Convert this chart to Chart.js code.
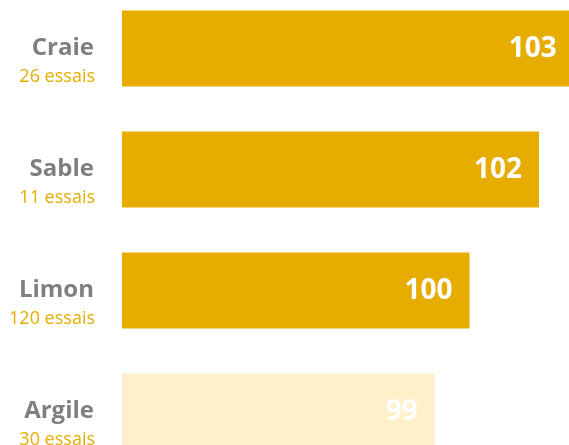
<!DOCTYPE html>
<html>
<head>
<meta charset="utf-8">
<script src="https://cdn.jsdelivr.net/npm/chart.js@4"></script>
<style>
html,body{margin:0;padding:0;background:#fff;overflow:hidden;width:569px;height:445px;}
#wrap{position:absolute;left:0;top:-12px;width:612px;height:484px;}
</style>
</head>
<body>
<div id="wrap"><canvas id="c" width="612" height="484"></canvas></div>
<script>
const categories = ["Craie", "Sable", "Limon", "Argile"];
const counts = ["26 essais", "11 essais", "120 essais", "30 essais"];
const values = [103, 102, 100, 99];
const barColors = ["#E6AC00", "#E6AC00", "#E6AC00", "#FDF0CB"];
const axisMin = 90;
const axisMax = 104.1;

const labelPlugin = {
  id: 'labels',
  afterDatasetsDraw(chart) {
    const ctx = chart.ctx;
    const y = chart.scales.y;
    const meta = chart.getDatasetMeta(0);
    ctx.save();
    categories.forEach((cat, i) => {
      const py = y.getPixelForValue(i);
      ctx.textAlign = 'right';
      ctx.textBaseline = 'middle';
      ctx.fillStyle = '#7F7F7F';
      ctx.font = 'bold 24px "Open Sans"';
      ctx.fillText(cat, 94, py);
      ctx.fillStyle = '#E6AC00';
      ctx.font = '18px "Open Sans"';
      ctx.fillText(counts[i], 95, py + 28);
      const bar = meta.data[i];
      ctx.fillStyle = '#FFFFFF';
      ctx.font = 'bold 28px "Open Sans"';
      ctx.fillText(String(values[i]), bar.x - 17, py + 1);
    });
    ctx.restore();
  }
};

new Chart(document.getElementById('c'), {
  type: 'bar',
  data: {
    labels: categories,
    datasets: [{
      data: values,
      backgroundColor: barColors,
      borderWidth: 0,
      barPercentage: 1,
      categoryPercentage: 0.628,
      base: axisMin
    }]
  },
  options: {
    indexAxis: 'y',
    responsive: false,
    animation: false,
    devicePixelRatio: 1,
    layout: { padding: { left: 122, right: 0, top: 0, bottom: 0 } },
    plugins: { legend: { display: false }, tooltip: { enabled: false } },
    scales: {
      x: { display: false, min: axisMin, max: axisMax },
      y: { display: false }
    }
  },
  plugins: [labelPlugin]
});
</script>
</body>
</html>
